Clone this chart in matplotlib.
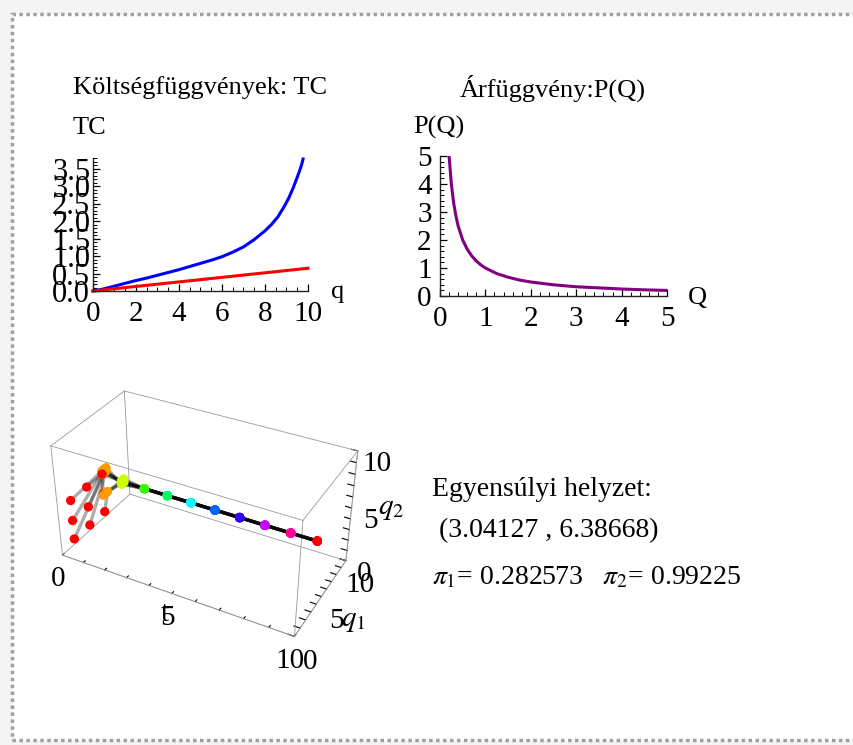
import colorsys
import matplotlib
matplotlib.use('Agg')
import matplotlib.pyplot as plt
from matplotlib.patches import Rectangle
from matplotlib.ticker import MultipleLocator, FuncFormatter

plt.rcParams['font.family'] = ['Liberation Serif', 'DejaVu Serif']
plt.rcParams['mathtext.fontset'] = 'stix'

# --- left panel: cost functions
q_blue = [0, 0.5, 1, 1.5, 2, 2.5, 3, 3.5, 4, 4.5, 5, 5.5, 6, 6.5, 7, 7.5, 8, 8.3, 8.6,
          8.9, 9.1, 9.3, 9.45, 9.6, 9.7, 9.77]
tc_blue = [0, 0.06, 0.14, 0.22, 0.3, 0.37, 0.45, 0.53, 0.61, 0.7, 0.79, 0.88, 0.98, 1.11,
           1.26, 1.47, 1.72, 1.9, 2.12, 2.42, 2.65, 2.93, 3.17, 3.42, 3.6, 3.77]
q_red = [0, 10]
tc_red = [0, 0.65]

# --- right panel: price function
Q_vals = [0.2, 0.25, 0.3, 0.35, 0.4, 0.5, 0.6, 0.7, 0.8, 0.9, 1, 1.25, 1.5, 1.75, 2, 2.5, 3,
          3.5, 4, 4.5, 5]
P_vals = [5, 4, 3.33, 2.86, 2.5, 2, 1.67, 1.43, 1.25, 1.11, 1, 0.8, 0.67, 0.57, 0.5, 0.4,
          0.33, 0.29, 0.25, 0.22, 0.2]

# --- 3D panel: best response dynamics from a 3x3 grid of starting points
t_steps = list(range(11))
q1_init = [1.7, 3.9, 6.1]
q2_init = [0.5, 2.3, 4.2]
q1_t1 = [3.9, 3.6, 3.3]     # indexed by starting q2
q2_t1 = [6.6, 6.3, 4.4]     # indexed by starting q1
q1_t2 = [3.0, 3.05, 3.3]    # indexed by starting q1
q2_t2 = [6.2, 6.35, 6.5]    # indexed by starting q2
q_eq = (3.04127, 6.38668)
pi_vals = (0.282573, 0.99225)

FS_TICK = 21
FS_TEXT = 19
FS_INFO = 20

fig = plt.figure(figsize=(8.54, 7.45), dpi=100, facecolor='#f4f4f4')
fig.patches.append(Rectangle((12 / 854, 5 / 745), 1.0, 726 / 745, transform=fig.transFigure,
                             facecolor='white', edgecolor='#a0a0a0', linestyle=(0, (1, 1)),
                             linewidth=2.5, zorder=-10))


def style_2d(ax):
    for s in ['top', 'right']:
        ax.spines[s].set_visible(False)
    for s in ['left', 'bottom']:
        ax.spines[s].set_linewidth(1.0)
        ax.spines[s].set_color('#222222')
    ax.tick_params(which='major', direction='in', length=5, width=0.9, labelsize=FS_TICK)
    ax.tick_params(which='minor', direction='in', length=3, width=0.7)
    ax.tick_params(axis='x', pad=7)
    ax.set_facecolor('none')


# left panel
ax1 = fig.add_axes([93 / 854, 1 - 291 / 745, 215 / 854, 133 / 745])
ax1.plot(q_blue, tc_blue, color='#0000ff', lw=2.2, clip_on=False)
ax1.plot(q_red, tc_red, color='#ff0000', lw=2.2, clip_on=False)
ax1.set_xlim(0, 10)
ax1.set_ylim(0, 3.8)
ax1.xaxis.set_major_locator(MultipleLocator(2))
ax1.xaxis.set_minor_locator(MultipleLocator(0.5))
ax1.yaxis.set_major_locator(MultipleLocator(0.5))
ax1.yaxis.set_minor_locator(MultipleLocator(0.1))
ax1.yaxis.set_major_formatter(FuncFormatter(lambda v, p: f'{v:.1f}'))
style_2d(ax1)
ax1.tick_params(axis='y', pad=2, labelsize=22)
fig.text(73 / 854, 1 - 88 / 745, 'Költségfüggvények: TC', fontsize=FS_TEXT, va='center')
fig.text(73 / 854, 1 - 128 / 745, 'TC', fontsize=FS_TEXT, va='center')
fig.text(331 / 854, 1 - 292 / 745, 'q', fontsize=FS_TEXT, va='center')

# right panel
ax2 = fig.add_axes([440 / 854, 1 - 296 / 745, 227 / 854, 140 / 745])
ax2.plot(Q_vals, P_vals, color='#800080', lw=2.2)
ax2.set_xlim(0, 5)
ax2.set_ylim(0, 5)
ax2.xaxis.set_major_locator(MultipleLocator(1))
ax2.xaxis.set_minor_locator(MultipleLocator(0.2))
ax2.yaxis.set_major_locator(MultipleLocator(1))
ax2.yaxis.set_minor_locator(MultipleLocator(0.2))
style_2d(ax2)
ax2.tick_params(axis='y', pad=6)
fig.text(553 / 854, 1 - 88 / 745, 'Árfüggvény:P(Q)', fontsize=FS_TEXT, va='center', ha='center')
fig.text(413 / 854, 1 - 127 / 745, 'P(Q)', fontsize=FS_TEXT, va='center')
fig.text(688 / 854, 1 - 298 / 745, 'Q', fontsize=FS_TEXT, va='center')

# 3D panel
ax3 = fig.add_axes([-0.017, 0.0855, 0.5, 0.46], projection='3d')
ax3.set_box_aspect((2, 1, 1), zoom=0.915)
ax3.view_init(elev=34, azim=-61.6)
ax3.set_proj_type('persp', focal_length=0.5)
ax3.set_xlim(0, 10)
ax3.set_ylim(0, 10)
ax3.set_zlim(0, 10)
ax3.grid(False)
for axis in (ax3.xaxis, ax3.yaxis, ax3.zaxis):
    axis.pane.fill = False
    axis.pane.set_edgecolor('none')
    axis.line.set_color('#999999')
    axis.line.set_linewidth(0.6)
    axis.set_major_locator(MultipleLocator(1))
    axis.set_major_formatter(FuncFormatter(lambda v, p: f'{v:.0f}' if v % 5 == 0 else ''))
    axis.set_rotate_label(False)
    axis._axinfo['tick']['inward_factor'] = 0.0
    axis._axinfo['tick']['outward_factor'] = 0.3
    axis._axinfo['tick']['color'] = '#444444'
ax3.tick_params(labelsize=FS_TICK, pad=0)
ax3.set_xlabel('t', fontsize=FS_TICK, labelpad=-6)
ax3.set_ylabel('$q_1$', fontsize=FS_TICK, labelpad=-4)
ax3.set_zlabel('$q_2$', fontsize=FS_TICK, labelpad=-4)

# box edges from the axis limits
lo, hi = 0, 10
for a in (lo, hi):
    for b in (lo, hi):
        ax3.plot([lo, hi], [a, a], [b, b], color='#999999', lw=0.6)
        ax3.plot([a, a], [lo, hi], [b, b], color='#999999', lw=0.6)
        ax3.plot([a, a], [b, b], [lo, hi], color='#999999', lw=0.6)

colors = [colorsys.hsv_to_rgb((t / 10) % 1.0, 1, 1) for t in t_steps]
for i in range(3):
    for j in range(3):
        q1_path = [q1_init[i], q1_t1[j], q1_t2[i]] + [q_eq[0]] * 8
        q2_path = [q2_init[j], q2_t1[i], q2_t2[j]] + [q_eq[1]] * 8
        ax3.plot(t_steps, q1_path, q2_path, color='black', alpha=0.32, lw=2.4)
        ax3.scatter(t_steps, q1_path, q2_path, c=colors, s=45, depthshade=False,
                    edgecolors='none', alpha=1)

fig.text(432 / 854, 1 - 490 / 745, 'Egyensúlyi helyzet:', fontsize=FS_INFO, va='center')
fig.text(432 / 854, 1 - 531 / 745, f' ({q_eq[0]} , {q_eq[1]})', fontsize=FS_INFO, va='center')
fig.text(432 / 854, 1 - 578 / 745,
         rf'$\pi_1$= {pi_vals[0]}   $\pi_2$= {pi_vals[1]}', fontsize=FS_INFO, va='center')

fig.savefig('out.png', dpi=100, facecolor=fig.get_facecolor())
